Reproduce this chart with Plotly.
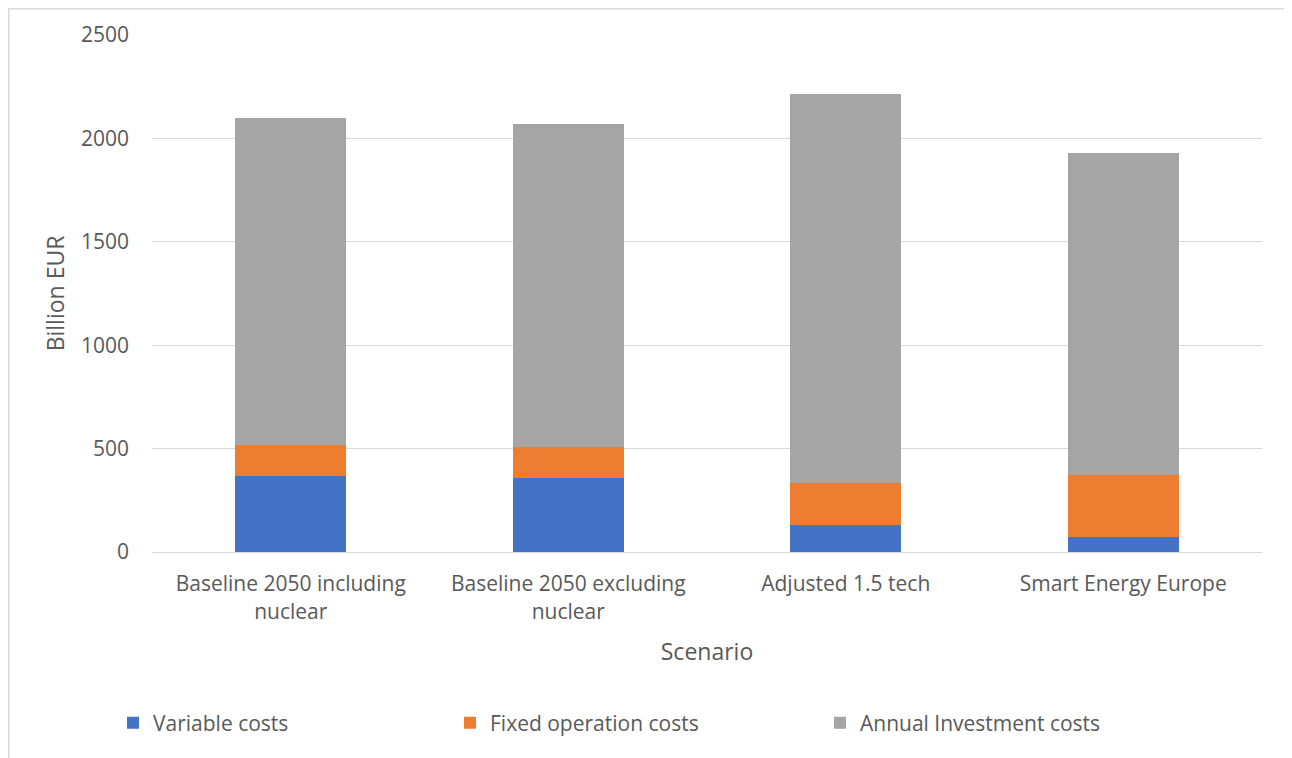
import plotly.graph_objects as go

scenarios = ["Baseline 2050 including<br>nuclear", "Baseline 2050 excluding<br>nuclear",
             "Adjusted 1.5 tech", "Smart Energy Europe"]
variable_costs = [367, 359, 130, 73]
fixed_operation_costs = [152, 148, 202, 299]
annual_investment_costs = [1581, 1563, 1883, 1558]

FONT = "Open Sans"
TXT = "#595959"

fig = go.Figure()
fig.add_bar(name="Variable costs", x=scenarios, y=variable_costs, marker_color="#4472C4",
            marker_line_width=0, legend="legend")
fig.add_bar(name="Fixed operation costs", x=scenarios, y=fixed_operation_costs, marker_color="#ED7D31",
            marker_line_width=0, legend="legend2")
fig.add_bar(name="Annual Investment costs", x=scenarios, y=annual_investment_costs, marker_color="#A5A5A5",
            marker_line_width=0, legend="legend3")

W, H = 1284, 750
PL, PR, PT, PB = 144, 30, 27, 206
pw = W - PL - PR
ph = H - PT - PB

def leg(xpix):
    return dict(orientation="h", x=(xpix - PL) / pw, y=-0.331, xanchor="left", yanchor="middle",
                font=dict(size=21, color=TXT), itemwidth=30, bgcolor="rgba(0,0,0,0)")

fig.update_layout(
    barmode="stack",
    bargap=0.6,
    width=W, height=H,
    margin=dict(l=PL, r=PR, t=PT, b=PB),
    paper_bgcolor="white", plot_bgcolor="white",
    font=dict(family=FONT, size=21, color=TXT),
    legend=leg(105), legend2=leg(442), legend3=leg(812),
    showlegend=True,
)
fig.update_yaxes(range=[0, 2500], dtick=500, showgrid=True, gridcolor="#D9D9D9", gridwidth=1,
                 zeroline=False, showline=False, ticks="", ticklen=0, ticklabelstandoff=22,
                 title=dict(text="Billion EUR", standoff=9, font=dict(size=23, color=TXT)),
                 tickfont=dict(size=21, color=TXT))
fig.update_xaxes(showline=True, linecolor="#D9D9D9", linewidth=1, ticks="", ticklabelstandoff=13,
                 title=dict(text="Scenario", standoff=20, font=dict(size=23, color=TXT)),
                 tickfont=dict(size=21, color=TXT))
fig.add_shape(type="rect", xref="paper", yref="paper",
              x0=(0.8 - PL) / pw, x1=(W - 2 - PL) / pw, y0=-(H + 20 - PT - ph) / ph, y1=(ph + PT - 0.8) / ph,
              line=dict(color="#D9D9D9", width=1.5), fillcolor="rgba(0,0,0,0)", layer="below")

fig.write_html("out.html")
